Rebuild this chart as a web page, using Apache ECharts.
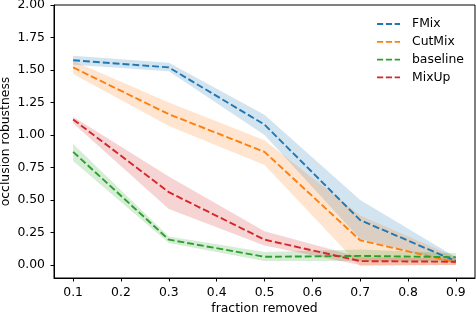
<!DOCTYPE html>
<html>
<head>
<meta charset="utf-8">
<script src="https://cdn.jsdelivr.net/npm/echarts@6/dist/echarts.min.js"></script>
<style>html,body{margin:0;padding:0;background:#fff}#c{width:476px;height:316px}</style>
</head>
<body>
<div id="c"></div>
<script>
const xs = [0.1, 0.3, 0.5, 0.7, 0.9];
const xTicks = [0.1, 0.2, 0.3, 0.4, 0.5, 0.6, 0.7, 0.8, 0.9];
const yTicks = [0, 0.25, 0.5, 0.75, 1.0, 1.25, 1.5, 1.75, 2.0];
const names = ['FMix', 'CutMix', 'baseline', 'MixUp'];
const colors = ['#1f77b4', '#ff7f0e', '#2ca02c', '#d62728'];

const fmixMean  = [1.575, 1.52, 1.08, 0.345, 0.03];
const fmixLow   = [1.54, 1.49, 1.00, 0.20, 0.01];
const fmixHigh  = [1.61, 1.555, 1.155, 0.50, 0.06];

const cutmixMean = [1.52, 1.16, 0.87, 0.19, 0.02];
const cutmixLow  = [1.47, 1.07, 0.77, -0.01, 0.00];
const cutmixHigh = [1.57, 1.25, 0.96, 0.38, 0.06];

const baseMean = [0.87, 0.195, 0.063, 0.07, 0.06];
const baseLow  = [0.80, 0.17, 0.03, 0.03, 0.03];
const baseHigh = [0.93, 0.22, 0.10, 0.12, 0.09];

const mixupMean = [1.12, 0.56, 0.195, 0.03, 0.025];
const mixupLow  = [1.09, 0.43, 0.15, 0.00, 0.00];
const mixupHigh = [1.14, 0.68, 0.26, 0.06, 0.05];

const means = [fmixMean, cutmixMean, baseMean, mixupMean];
const lows = [fmixLow, cutmixLow, baseLow, mixupLow];
const highs = [fmixHigh, cutmixHigh, baseHigh, mixupHigh];

function hexA(h, a) {
  const r = parseInt(h.slice(1,3),16), g = parseInt(h.slice(3,5),16), b = parseInt(h.slice(5,7),16);
  return `rgba(${r},${g},${b},${a})`;
}

const series = [];
names.forEach((n, i) => {
  series.push({
    name: n + '_band', type: 'custom', silent: true, z: 1,
    data: xs.map((x, k) => [x, lows[i][k], highs[i][k]]),
    encode: { x: 0, y: [1, 2] },
    renderItem: function (params, api) {
      if (params.dataIndex !== 0) return null;
      const pts = [];
      for (let k = 0; k < xs.length; k++) pts.push(api.coord([xs[k], highs[i][k]]));
      for (let k = xs.length - 1; k >= 0; k--) pts.push(api.coord([xs[k], lows[i][k]]));
      return {
        type: 'polygon',
        shape: { points: pts },
        style: { fill: hexA(colors[i], 0.2), stroke: null }
      };
    }
  });
});
names.forEach((n, i) => {
  series.push({
    name: n, type: 'line', symbol: 'none', color: colors[i],
    lineStyle: { color: colors[i], width: 1.9, type: [6.9, 3] },
    data: xs.map((x, k) => [x, means[i][k]]), z: 3
  });
});

const dashIcon = 'path://M0,0h7v2h-7z M10,0h7v2h-7z M20,0h6v2h-6z';
const font = 'DejaVu Sans';
const chart = echarts.init(document.getElementById('c'), null, { renderer: 'canvas' });
chart.setOption({
  animation: false,
  backgroundColor: '#fff',
  grid: { left: 54, right: 1, top: 5, bottom: 38, show: true, borderColor: '#000', borderWidth: 1, backgroundColor: 'transparent', outerBoundsMode: 'none', containLabel: false },
  legend: {
    data: names.map(n => ({ name: n, icon: dashIcon })), orient: 'vertical', left: 377, top: 18, padding: 0,
    itemWidth: 23, itemHeight: 2, itemGap: 5.8,
    textStyle: { fontFamily: font, fontSize: 12.4, color: '#000', padding: [0, 0, 0, 7] }
  },
  xAxis: {
    type: 'value', min: 0.06, max: 0.94,
    name: 'fraction removed', nameLocation: 'middle', nameGap: 25, nameMoveOverlap: false,
    nameTextStyle: { fontFamily: font, fontSize: 12.4, color: '#000' },
    axisLine: { show: true, onZero: false, lineStyle: { color: '#000', width: 1 } },
    axisTick: { show: true, length: 3.5, lineStyle: { color: '#000' }, customValues: xTicks },
    axisLabel: { fontFamily: font, fontSize: 12.4, color: '#000', margin: 9, customValues: xTicks, formatter: v => v.toFixed(1) },
    splitLine: { show: false }
  },
  yAxis: {
    type: 'value', min: -0.1, max: 2.0,
    name: 'occlusion robustness', nameLocation: 'middle', nameGap: 42, nameMoveOverlap: false,
    nameTextStyle: { fontFamily: font, fontSize: 12.4, color: '#000' },
    axisLine: { show: true, onZero: false, lineStyle: { color: '#000', width: 1 } },
    axisTick: { show: true, length: 3.5, lineStyle: { color: '#000' }, customValues: yTicks },
    axisLabel: { fontFamily: font, fontSize: 12.4, color: '#000', margin: 9, customValues: yTicks, formatter: v => v.toFixed(2) },
    splitLine: { show: false }
  },
  series: series
});
</script>
</body>
</html>
